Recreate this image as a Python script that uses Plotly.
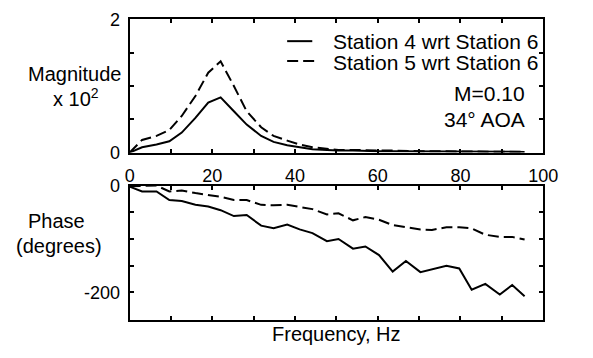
import plotly.graph_objects as go

# Frequency (Hz)
freq = [0, 3.0, 6.5, 9.6, 12.6, 15.9, 19.0, 22.0, 25.2, 28.3, 31.8, 34.8, 38.1, 41.1, 44.2,
        47.7, 50.5, 54.0, 57.0, 60.3, 63.6, 66.8, 70.3, 73.1, 76.6, 79.7, 82.7, 86.0, 89.5,
        92.5, 95.5]

# Magnitude x 10^2
mag_st4 = [0, 0.08, 0.12, 0.17, 0.30, 0.52, 0.75, 0.83, 0.62, 0.42, 0.25, 0.16, 0.11, 0.08,
           0.05, 0.04, 0.03, 0.03, 0.02, 0.02, 0.02, 0.02, 0.01, 0.02, 0.01, 0.01, 0.01, 0.01,
           0.01, 0.01, 0.01]
mag_st5 = [0, 0.19, 0.25, 0.34, 0.55, 0.85, 1.20, 1.37, 1.00, 0.62, 0.38, 0.25, 0.18, 0.12,
           0.08, 0.06, 0.04, 0.04, 0.03, 0.03, 0.03, 0.02, 0.02, 0.02, 0.02, 0.02, 0.01, 0.02,
           0.01, 0.01, 0.01]

# Phase (degrees)
ph_st4 = [-2, -11, -11, -27, -29, -36, -39, -46, -57, -55, -75, -80, -73, -82, -89, -104, -100,
          -118, -114, -130, -161, -141, -162, -157, -150, -155, -195, -184, -204, -186, -207]
ph_st5 = [-1, 0, 0, -11, -9, -14, -18, -21, -27, -27, -36, -37, -36, -40, -44, -54, -52, -65,
          -59, -64, -74, -78, -82, -83, -78, -78, -80, -92, -96, -96, -101]

series_names = ["Station 4 wrt Station 6", "Station 5 wrt Station 6"]

x_major = [0, 20, 40, 60, 80, 100]
x_labels = ["0", "20", "40", "60", "80", "100"]
x_minor = [10, 30, 50, 70, 90]
mag_major = [0, 2]
mag_labels = ["0", "2"]
mag_minor = [0.5, 1, 1.5]
ph_major = [0, -200]
ph_labels = ["0", "-200"]
ph_minor = [-50, -100, -150]

W, H = 593, 358
FONT = "Liberation Sans, Arial, Helvetica, sans-serif"
DASH = "11px,5px"


def px_x(p):
    return p / W


def px_y(p):
    return 1 - p / H


fig = go.Figure()
fig.add_trace(go.Scatter(x=freq, y=mag_st4, mode="lines", name=series_names[0],
                         line=dict(color="black", width=2), xaxis="x", yaxis="y"))
fig.add_trace(go.Scatter(x=freq, y=mag_st5, mode="lines", name=series_names[1],
                         line=dict(color="black", width=2, dash=DASH), xaxis="x", yaxis="y"))
fig.add_trace(go.Scatter(x=freq, y=ph_st4, mode="lines", name=series_names[0],
                         line=dict(color="black", width=2), xaxis="x2", yaxis="y2"))
fig.add_trace(go.Scatter(x=freq, y=ph_st5, mode="lines", name=series_names[1],
                         line=dict(color="black", width=2, dash=DASH), xaxis="x2", yaxis="y2"))

axis_common = dict(showline=True, linecolor="black", linewidth=2, mirror="allticks",
                   ticks="inside", ticklen=4, tickwidth=1.5, tickcolor="black",
                   showgrid=False, zeroline=False,
                   tickfont=dict(family=FONT, size=18, color="black"))


def minor(vals):
    return dict(tickmode="array", tickvals=vals, ticks="inside", ticklen=4,
                tickwidth=1.5, tickcolor="black", showgrid=False)


xdom = [px_x(129), px_x(557)]
fig.update_layout(
    width=W, height=H, margin=dict(l=0, r=0, t=0, b=0),
    paper_bgcolor="white", plot_bgcolor="white", showlegend=False,
    xaxis=dict(domain=xdom, range=[0, 100], tickmode="array", tickvals=x_major,
               ticktext=x_labels, minor=minor(x_minor), anchor="y", ticklabelstandoff=6,
               **axis_common),
    yaxis=dict(domain=[px_y(151), px_y(10)], range=[0, 2], tickmode="array",
               tickvals=mag_major, ticktext=mag_labels, minor=minor(mag_minor), anchor="x",
               ticklabelstandoff=4, **axis_common),
    xaxis2=dict(domain=xdom, range=[0, 100], tickmode="array", tickvals=x_major,
                minor=minor(x_minor), showticklabels=False, anchor="y2", **axis_common),
    yaxis2=dict(domain=[px_y(328), px_y(186)], range=[-251, 0], tickmode="array",
                tickvals=ph_major, ticktext=ph_labels, minor=minor(ph_minor), anchor="x2",
                ticklabelstandoff=4, **axis_common),
)

txt = dict(family=FONT, size=20, color="black")
leg_txt = dict(family=FONT, size=21, color="black")
annotations = []
for text, x, y in [("Magnitude", 72, 68), ("x 10<sup>2</sup>", 73, 93), ("Phase", 53, 223),
                   ("(degrees)", 56, 250), ("Frequency, Hz", 343, 343)]:
    annotations.append(dict(text=text, x=px_x(x), y=px_y(y), xref="paper", yref="paper",
                            showarrow=False, xanchor="center", yanchor="middle", font=txt))
for text, x, y, anchor in [(series_names[0], 337, 33, "left"),
                           (series_names[1], 337, 56, "left"),
                           ("M=0.10", 540, 88, "right"),
                           ("34° AOA", 540, 116, "right")]:
    annotations.append(dict(text=text, x=px_x(x), y=px_y(y), xref="paper", yref="paper",
                            showarrow=False, xanchor=anchor, yanchor="middle", font=leg_txt))

shapes = [
    dict(type="line", xref="paper", yref="paper", x0=px_x(292), x1=px_x(318),
         y0=px_y(33), y1=px_y(33), line=dict(color="black", width=2)),
    dict(type="line", xref="paper", yref="paper", x0=px_x(292), x1=px_x(324),
         y0=px_y(54), y1=px_y(54), line=dict(color="black", width=2, dash=DASH)),
]
fig.update_layout(annotations=annotations, shapes=shapes)

fig.write_html("out.html")
